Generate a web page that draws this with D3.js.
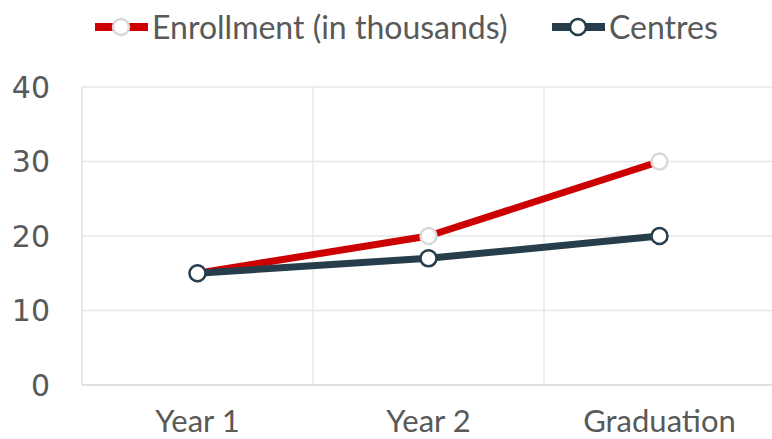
<!DOCTYPE html>
<html><head><meta charset="utf-8">
<script src="https://cdn.jsdelivr.net/npm/d3@7"></script>
<style>body{margin:0;background:#fff}svg{display:block}</style>
</head><body><svg id="c" width="772" height="439"></svg>
<script>
const categories = ["Year 1", "Year 2", "Graduation"];
const enrollment = [15, 20, 30];
const centres = [15, 17, 20];
const yTicks = [0, 10, 20, 30, 40];
const seriesNames = ["Enrollment (in thousands)", "Centres"];

const svg = d3.select("#c");
const x = d3.scaleBand().domain(categories).range([82, 775]);
const y = d3.scaleLinear().domain([0, 40]).range([385, 87]);
const font = "Lato, 'DejaVu Sans', sans-serif";

// gridlines
svg.append("g").selectAll("line").data(yTicks.slice(1)).join("line")
  .attr("x1", 82).attr("x2", 772).attr("y1", d => y(d)).attr("y2", d => y(d))
  .attr("stroke", "#e6e6e6").attr("stroke-width", 1.3);
svg.append("g").selectAll("line").data(categories.slice(1)).join("line")
  .attr("x1", d => x(d)).attr("x2", d => x(d)).attr("y1", 87).attr("y2", 385)
  .attr("stroke", "#e6e6e6").attr("stroke-width", 1.3);
// axes lines
svg.append("line").attr("x1", 82).attr("x2", 82).attr("y1", 87).attr("y2", 385)
  .attr("stroke", "#dcdcdc").attr("stroke-width", 1.3);
svg.append("line").attr("x1", 82).attr("x2", 772).attr("y1", 385).attr("y2", 385)
  .attr("stroke", "#d6d6d6").attr("stroke-width", 1.3);

// y tick labels
svg.append("g").selectAll("text").data(yTicks).join("text")
  .attr("x", 50).attr("y", d => y(d)).attr("dy", "0.36em")
  .attr("text-anchor", "end").attr("font-family", "'DejaVu Sans', sans-serif")
  .attr("font-size", 30).attr("fill", "#595959").text(d => d);
// x labels
svg.append("g").selectAll("text").data(categories).join("text")
  .attr("x", d => x(d) + x.bandwidth() / 2).attr("y", 432)
  .attr("text-anchor", "middle").attr("font-family", font)
  .attr("font-size", 31).attr("fill", "#595959").text(d => d);

const series = [
  {name: seriesNames[0], values: enrollment, color: "#cc0000", mstroke: "#d9d9d9"},
  {name: seriesNames[1], values: centres, color: "#263d4c", mstroke: "#263d4c"}
];
const line = d3.line().x((d, i) => x(categories[i]) + x.bandwidth() / 2).y(d => y(d));
series.forEach(s => {
  svg.append("path").attr("d", line(s.values)).attr("fill", "none")
    .attr("stroke", s.color).attr("stroke-width", 7).attr("stroke-linejoin", "round");
  svg.append("g").selectAll("circle").data(s.values).join("circle")
    .attr("cx", (d, i) => x(categories[i]) + x.bandwidth() / 2).attr("cy", d => y(d))
    .attr("r", 8).attr("fill", "#fff").attr("stroke", s.mstroke).attr("stroke-width", 2.5);
});

// legend
const legX = [95, 552];
series.forEach((s, i) => {
  const g = svg.append("g").attr("transform", `translate(${legX[i]},27)`);
  g.append("line").attr("x1", 0).attr("x2", 53).attr("y1", 0).attr("y2", 0)
    .attr("stroke", s.color).attr("stroke-width", 8);
  g.append("circle").attr("cx", 26).attr("cy", 0).attr("r", 8)
    .attr("fill", "#fff").attr("stroke", s.mstroke).attr("stroke-width", 2.5);
  g.append("text").attr("x", 57).attr("y", 12)
    .attr("font-family", font).attr("font-size", 32).attr("fill", "#595959").text(s.name);
});
</script></body></html>
